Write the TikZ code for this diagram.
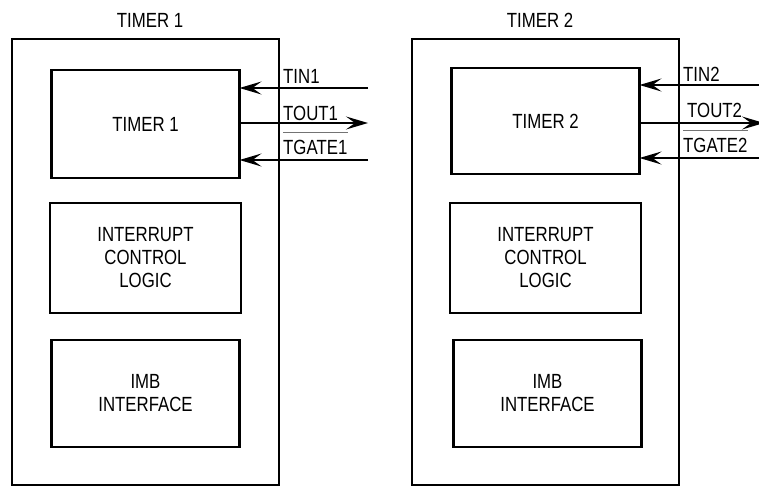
\documentclass[tikz,border=0pt]{standalone}
\usepackage{fontspec}
\setmainfont{Liberation Sans}[FakeStretch=0.82]
\usetikzlibrary{arrows.meta, positioning}

\begin{document}
\begin{tikzpicture}[
    x=1pt, y=-1pt,
    font=\fontsize{20.5}{23}\selectfont,
    outer/.style={rectangle, draw, line width=2.5pt, minimum width=267pt, minimum height=446pt, outer sep=0pt},
    block/.style={rectangle, draw, line width=2.2pt, minimum width=188pt, minimum height=108pt, align=center, outer sep=0pt, inner sep=0pt},
    sig/.style={line width=1.5pt},
    arrow/.style={sig, -{Stealth[length=22pt, width=13pt, inset=9pt]}},
    siglabel/.style={anchor=base west, inner sep=0pt},
    bar/.style={line width=1.6pt, draw=black!55}
]
    \useasboundingbox (0,0) rectangle (759,487);

    % Timer 1
    \node[outer] (box1) at (145.5,262) {};
    \node (title1) at (150,20) {TIMER 1};
    \node[block] (t1) at (145.5,124) {TIMER 1};
    \node[block, below=25pt of t1, minimum width=191pt, minimum height=110pt] (icl1) {INTERRUPT\\CONTROL\\LOGIC};
    \node[block, below=27pt of icl1, minimum height=107pt] (imb1) {IMB\\INTERFACE};

    % Timer 2
    \node[outer] (box2) at (545.5,262) {};
    \node (title2) at (540,20) {TIMER 2};
    \node[block, minimum height=106pt] (t2) at (545.5,121) {TIMER 2};
    \node[block, below=29pt of t2, minimum width=191pt, minimum height=110pt] (icl2) {INTERRUPT\\CONTROL\\LOGIC};
    \node[block, below=27pt of icl2, minimum height=107pt, xshift=2pt] (imb2) {IMB\\INTERFACE};

    % Timer 1 signals
    \coordinate (tin1) at (368,88);
    \coordinate (tout1) at (368,123);
    \coordinate (tgate1) at (368,160);
    \draw[arrow] (tin1) -- (tin1 -| t1.east);
    \draw[arrow] (tout1 -| t1.east) -- (tout1);
    \draw[arrow] (tgate1) -- (tgate1 -| t1.east);
    \node[siglabel] (tin1l) at (283,83) {TIN1};
    \node[siglabel] (tout1l) at (283,120) {TOUT1};
    \node[siglabel] (tgate1l) at (283,154) {TGATE1};
    \draw[bar] ([yshift=7pt]tgate1l.north west) -- ([yshift=7pt]tgate1l.north east);

    % Timer 2 signals
    \coordinate (tin2) at (764,85);
    \coordinate (tout2) at (764,123);
    \coordinate (tgate2) at (764,158);
    \draw[arrow] (tin2) -- (tin2 -| t2.east);
    \draw[arrow] (tout2 -| t2.east) -- (tout2);
    \draw[arrow] (tgate2) -- (tgate2 -| t2.east);
    \node[siglabel] (tin2l) at (683,81) {TIN2};
    \node[siglabel] (tout2l) at (687,117) {TOUT2};
    \node[siglabel] (tgate2l) at (683,152) {TGATE2};
    \draw[bar] ([yshift=7pt]tgate2l.north west) -- ([yshift=7pt]tgate2l.north east);
\end{tikzpicture}
\end{document}
